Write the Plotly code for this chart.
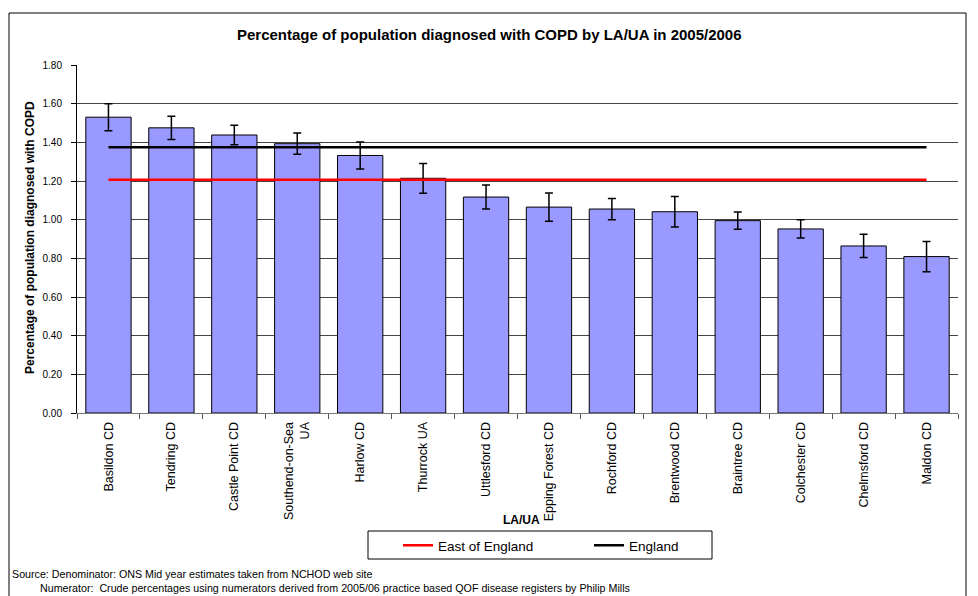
import plotly.graph_objects as go

categories = ["Basildon CD", "Tendring CD", "Castle Point CD", "Southend-on-Sea<br>UA",
              "Harlow CD", "Thurrock UA", "Uttlesford CD", "Epping Forest CD",
              "Rochford CD", "Brentwood CD", "Braintree CD", "Colchester CD",
              "Chelmsford CD", "Maldon CD"]
values = [1.53, 1.475, 1.438, 1.393, 1.332, 1.214, 1.117, 1.065, 1.055, 1.041, 0.995, 0.952, 0.864, 0.809]
errors = [0.07, 0.06, 0.05, 0.055, 0.07, 0.077, 0.062, 0.073, 0.055, 0.079, 0.045, 0.047, 0.06, 0.078]
east_of_england = 1.207
england = 1.374
y_ticks = [0.0, 0.2, 0.4, 0.6, 0.8, 1.0, 1.2, 1.4, 1.6, 1.8]

FONT = "Liberation Sans, Arial, sans-serif"

fig = go.Figure()
fig.add_trace(go.Bar(
    x=categories, y=values, showlegend=False,
    marker=dict(color="#9999FF", line=dict(color="black", width=1)),
    width=0.72,
    error_y=dict(type="data", array=errors, color="black", thickness=1.5, width=4),
))
fig.add_trace(go.Scatter(x=categories, y=[east_of_england] * len(categories), mode="lines",
                         name="East of England", line=dict(color="#FF0000", width=2.5)))
fig.add_trace(go.Scatter(x=categories, y=[england] * len(categories), mode="lines",
                         name="England", line=dict(color="black", width=2.5)))

# page offset (body margin) compensation
OFF = 8
W, H = 978, 596
PL, PR, PT, PB = 77, 958, 65, 413          # plot area in page pixels
L, T = PL - OFF, PT - OFF
R = W - (PR - OFF)
B = H - (PB - OFF)
pw, ph = PR - PL, PB - PT

def px(x):
    return (x - PL) / pw

def py(y):
    return (PB - y) / ph

fig.update_layout(
    width=W, height=H,
    margin=dict(l=L, r=R, t=T, b=B),
    paper_bgcolor="white", plot_bgcolor="white",
    font=dict(family=FONT, color="black", size=10),
    showlegend=True,
    legend=dict(orientation="h", x=px(398), xanchor="left", y=py(530), yanchor="top",
                borderwidth=0, bgcolor="rgba(0,0,0,0)", font=dict(size=13.5, family=FONT),
                entrywidth=146, entrywidthmode="pixels", itemwidth=30),
    xaxis=dict(tickangle=-90, tickfont=dict(size=12.5), ticks="outside", tickson="boundaries",
               ticklen=5, tickcolor="#555", showline=True, linecolor="#777", linewidth=1,
               showgrid=False, range=[-0.5, len(categories) - 0.5], ticklabelstandoff=3),
    yaxis=dict(range=[0, 1.8], tickvals=y_ticks, tickformat=".2f", tickfont=dict(size=10),
               ticks="outside", ticklen=5, tickcolor="black", showline=True, linecolor="black",
               linewidth=1, showgrid=True, gridcolor="#444", gridwidth=1, zeroline=False,
               ticklabelstandoff=7),
    shapes=[
        dict(type="rect", xref="paper", yref="paper", x0=px(9), x1=px(966), y0=py(620), y1=py(13),
             line=dict(color="black", width=1), fillcolor="rgba(0,0,0,0)", layer="below"),
        dict(type="rect", xref="paper", yref="paper", x0=px(368), x1=px(712), y0=py(559), y1=py(531),
             line=dict(color="black", width=1), fillcolor="rgba(0,0,0,0)", layer="below"),
    ],
    annotations=[
        dict(text="<b>Percentage of population diagnosed with COPD by LA/UA in 2005/2006</b>",
             xref="paper", yref="paper", x=px(489), y=py(34), xanchor="center", yanchor="middle",
             showarrow=False, font=dict(size=15)),
        dict(text="<b>Percentage of population diagnosed with COPD</b>", textangle=-90,
             xref="paper", yref="paper", x=px(30), y=py(238), xanchor="center", yanchor="middle",
             showarrow=False, font=dict(size=12)),
        dict(text="<b>LA/UA</b>", xref="paper", yref="paper", x=px(521), y=py(520),
             xanchor="center", yanchor="middle", showarrow=False, font=dict(size=12)),
        dict(text="Source: Denominator: ONS Mid year estimates taken from NCHOD web site",
             xref="paper", yref="paper", x=px(10), y=py(574), xanchor="left", yanchor="middle",
             showarrow=False, font=dict(size=10.7)),
        dict(text="Numerator:  Crude percentages using numerators derived from 2005/06 practice based QOF disease registers by Philip Mills",
             xref="paper", yref="paper", x=px(38), y=py(588), xanchor="left", yanchor="middle",
             showarrow=False, font=dict(size=10.7)),
    ],
)

fig.write_html("out.html")
